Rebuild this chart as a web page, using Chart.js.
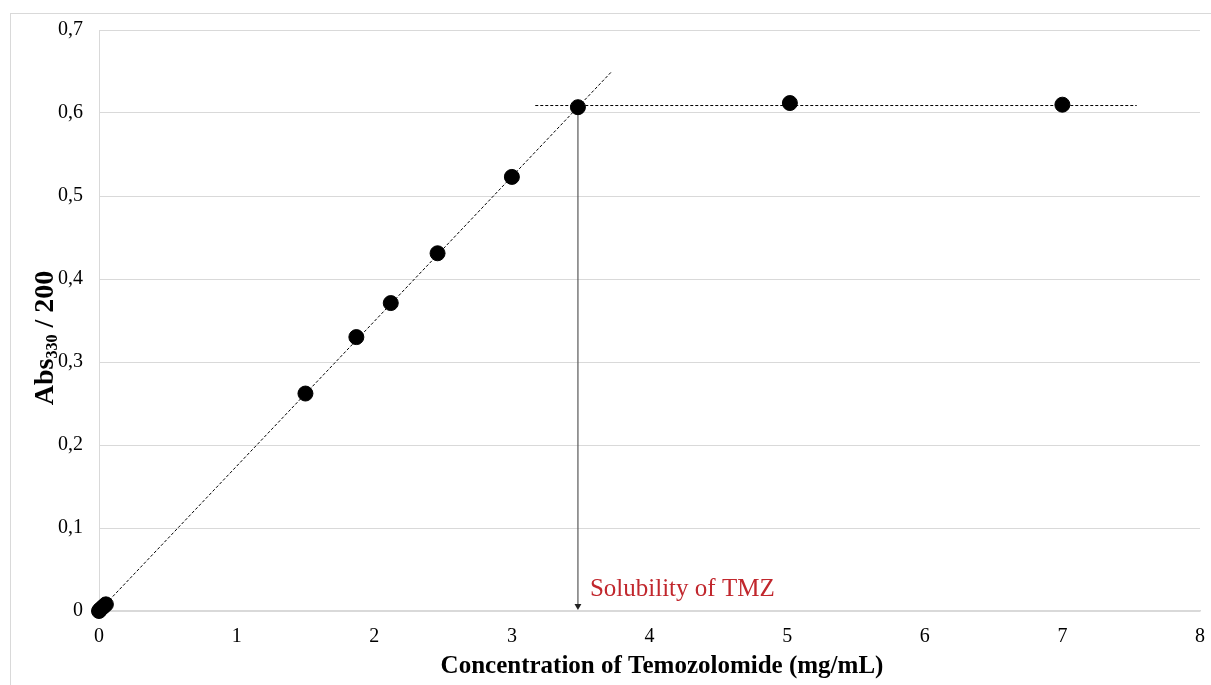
<!DOCTYPE html>
<html>
<head>
<meta charset="utf-8">
<script src="https://cdn.jsdelivr.net/npm/chart.js@4.4.1/dist/chart.umd.min.js"></script>
<style>
  html, body { margin: 0; padding: 0; background: #fff; overflow: hidden; }
  #wrap { position: relative; width: 1211px; height: 685px; }
  #frame { position: absolute; left: 10px; top: 13px; width: 1210px; height: 700px; border: 1px solid #d9d9d9; box-sizing: border-box; }
  canvas { position: absolute; left: 0; top: 0; }
</style>
</head>
<body>
<div id="wrap">
  <div id="frame"></div>
  <canvas id="chart" width="1211" height="685"></canvas>
</div>
<script>
// valores
const concentration = [0, 0.01, 0.03, 0.05, 1.5, 1.87, 2.12, 2.46, 3.0, 3.48, 5.02, 7.0];
const absorbance = [0, 0.002, 0.005, 0.008, 0.262, 0.330, 0.371, 0.431, 0.523, 0.607, 0.612, 0.610];

// linha de tendência e patamar (pontilhadas)
const trendX = [0, 3.72];
const trendY = [0, 0.649];
const plateauX = [3.17, 7.54];
const plateauY = [0.609, 0.609];

// solubilidade
const solubilityX = 3.48;
const solubilityTop = 0.607;
const solubilityLabel = 'Solubility of TMZ';

const xTitle = 'Concentration of Temozolomide (mg/mL)';
const yTitleMain = 'Abs';
const yTitleSub = '330';
const yTitleEnd = ' / 200';

const serif = '"Liberation Serif", "Times New Roman", serif';

const toPoints = (xs, ys) => xs.map((x, i) => ({ x: x, y: ys[i] }));

// desenha títulos e o texto vermelho
const labelsPlugin = {
    id: 'labelsPlugin',
    afterDraw(chart) {
        const ctx = chart.ctx;
        const xs = chart.scales.x;
        const area = chart.chartArea;
        ctx.save();

        // título do eixo x
        ctx.fillStyle = '#000';
        ctx.font = 'bold 25px ' + serif;
        ctx.textAlign = 'center';
        ctx.textBaseline = 'middle';
        ctx.fillText(xTitle, 662, 667);

        // título do eixo y com subscrito
        ctx.translate(44, 338);
        ctx.rotate(-Math.PI / 2);
        ctx.textBaseline = 'alphabetic';
        ctx.textAlign = 'left';
        const big = 'bold 28px ' + serif;
        const small = 'bold 16px ' + serif;
        ctx.font = big;
        const w1 = ctx.measureText(yTitleMain).width;
        const w3 = ctx.measureText(yTitleEnd).width;
        ctx.font = small;
        const w2 = ctx.measureText(yTitleSub).width;
        let cx = -(w1 + w2 + w3) / 2;
        ctx.font = big;
        ctx.fillText(yTitleMain, cx, 9);
        cx += w1;
        ctx.font = small;
        ctx.fillText(yTitleSub, cx, 13);
        cx += w2;
        ctx.font = big;
        ctx.fillText(yTitleEnd, cx, 9);
        ctx.restore();

        // texto da solubilidade
        ctx.save();
        ctx.fillStyle = '#c1272d';
        ctx.font = '25px ' + serif;
        ctx.textAlign = 'left';
        ctx.textBaseline = 'middle';
        ctx.fillText(solubilityLabel, xs.getPixelForValue(solubilityX) + 12, area.bottom - 22);
        ctx.restore();
    }
};

const ctx = document.getElementById('chart').getContext('2d');

new Chart(ctx, {
    type: 'scatter',
    data: {
        datasets: [
            {
                label: 'Abs',
                data: toPoints(concentration, absorbance),
                backgroundColor: '#000',
                borderColor: '#000',
                pointRadius: 7.5,
                clip: false,
                order: 0
            },
            {
                type: 'line',
                label: 'trend',
                data: toPoints(trendX, trendY),
                borderColor: '#000',
                borderWidth: 1,
                borderDash: [3, 2],
                pointRadius: 0,
                clip: false,
                order: 2
            },
            {
                type: 'line',
                label: 'plateau',
                data: toPoints(plateauX, plateauY),
                borderColor: '#000',
                borderWidth: 1,
                borderDash: [3, 2],
                pointRadius: 0,
                clip: false,
                order: 2
            },
            {
                type: 'line',
                label: 'solubility',
                data: [{ x: solubilityX, y: solubilityTop }, { x: solubilityX, y: 0.006 }],
                borderColor: '#595959',
                borderWidth: 1.2,
                pointRadius: [0, 4],
                pointStyle: 'triangle',
                rotation: 180,
                pointBackgroundColor: '#222',
                pointBorderColor: '#222',
                pointBorderWidth: 0,
                clip: false,
                order: 1
            }
        ]
    },
    options: {
        responsive: false,
        animation: false,
        events: [],
        layout: { padding: { top: 30, right: 11, left: 0, bottom: 0 } },
        plugins: {
            legend: { display: false },
            tooltip: { enabled: false }
        },
        scales: {
            x: {
                type: 'linear',
                min: 0,
                max: 8,
                afterFit: (scale) => {
                    scale.height = 74;
                    scale.paddingLeft = 0;
                    scale.paddingRight = 0;
                },
                grid: { display: false, drawTicks: false },
                border: { display: true, color: '#d9d9d9', width: 1.5 },
                ticks: {
                    stepSize: 1,
                    padding: 14,
                    color: '#000',
                    font: { family: serif, size: 20 }
                }
            },
            y: {
                type: 'linear',
                min: 0,
                max: 0.7,
                afterFit: (scale) => {
                    scale.width = 99;
                    scale.paddingTop = 0;
                    scale.paddingBottom = 0;
                },
                grid: { color: '#d9d9d9', lineWidth: 1, drawTicks: false },
                border: { display: true, color: '#d9d9d9', width: 1 },
                ticks: {
                    stepSize: 0.1,
                    padding: 16,
                    color: '#000',
                    font: { family: serif, size: 20 },
                    callback: (v) => v === 0 ? '0' : v.toFixed(1).replace('.', ',')
                }
            }
        }
    },
    plugins: [labelsPlugin]
});
</script>
</body>
</html>
